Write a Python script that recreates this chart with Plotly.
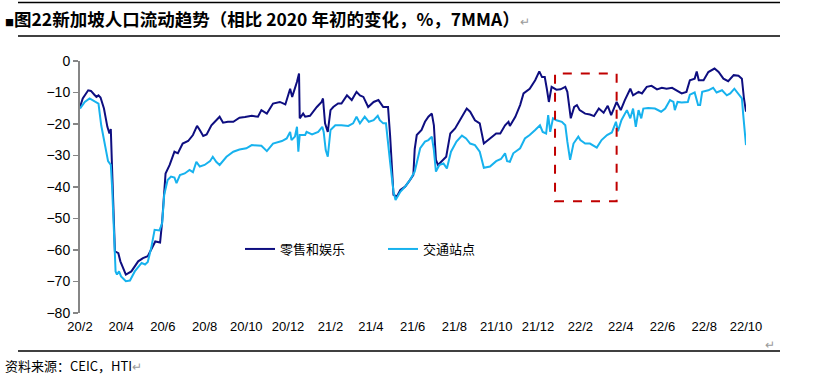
import plotly.graph_objects as go
import pandas as pd

# ---------------- data ----------------
base_date = "2020-02-15"   # day 0 of the series

retail_name = "零售和娱乐"
retail_days = [0, 4, 12, 16, 21, 24, 27, 30, 35, 40, 43, 45, 47, 51, 56, 59, 67, 75, 85, 92,
               99, 107, 110, 117, 120, 125, 131, 138, 143, 150, 158, 165, 171, 175, 180, 185, 192, 197, 204, 209,
               216, 224, 233, 241, 251, 260, 265, 273, 282, 292, 300, 307, 310, 317, 320, 321, 326, 329, 336, 346,
               353, 355, 358, 362, 366, 370, 377, 382, 390, 397, 404, 409, 414, 421, 429, 436, 443, 450, 453, 458,
               463, 468, 475, 482, 487, 489, 492, 499, 504, 509, 514, 517, 520, 523, 531, 535, 541, 548, 555, 565,
               570, 577, 584, 590, 599, 608, 614, 621, 626, 628, 636, 643, 648, 657, 665, 671, 675, 679, 682, 685,
               689, 696, 702, 709, 712, 715, 717, 722, 726, 730, 735, 738, 745, 751, 758, 765, 771, 776, 784, 790,
               796, 804, 808, 816, 821, 828, 835, 843, 850, 857, 865, 872, 879, 886, 891, 898, 901, 904, 911, 918,
               927, 933, 940, 947, 955, 962, 967, 970, 973]
retail_vals = [-14.6, -11.9, -9.3, -9.5, -10.7, -11.4, -10.9, -11.6, -15.1, -20.9, -23.0, -21.6, -35.0, -60.4, -61.0, -63.6, -67.8, -66.8, -63.6, -62.6,
               -62.0, -58.3, -57.3, -57.6, -51.0, -35.7, -33.0, -28.8, -29.3, -26.2, -25.4, -23.5, -20.6, -21.9, -23.8, -23.3, -20.4, -19.3, -17.7, -19.6,
               -19.3, -19.3, -18.0, -17.8, -17.4, -17.7, -15.6, -16.7, -13.5, -13.0, -13.8, -8.8, -11.4, -6.6, -4.0, -18.2, -16.7, -17.7, -17.4, -14.6,
               -13.0, -11.9, -19.8, -22.5, -15.6, -14.6, -13.5, -13.5, -10.9, -12.4, -9.8, -10.9, -11.4, -14.6, -13.0, -12.4, -14.6, -14.6, -23.5, -42.5,
               -43.0, -40.9, -39.9, -37.8, -36.2, -28.0, -23.5, -21.9, -19.3, -17.7, -16.7, -20.4, -31.4, -33.0, -31.4, -30.4, -23.0, -21.4, -18.8, -15.1,
               -16.1, -18.8, -19.8, -26.2, -24.6, -23.0, -23.0, -20.4, -19.3, -20.6, -17.7, -14.0, -10.3, -8.8, -6.1, -3.3, -5.1, -5.1, -8.8, -13.0,
               -8.2, -9.1, -9.0, -8.2, -9.8, -15.1, -18.2, -14.6, -14.0, -15.6, -16.4, -16.7, -17.0, -17.5, -15.1, -16.4, -14.2, -17.2, -13.0, -15.6,
               -12.4, -8.8, -10.9, -9.8, -10.3, -8.2, -7.9, -9.0, -8.5, -8.8, -8.5, -9.3, -10.3, -9.8, -6.1, -5.6, -3.3, -6.1, -6.1, -3.5,
               -2.4, -3.5, -5.6, -6.4, -4.5, -4.7, -5.6, -11.9, -16.1]

transit_name = "交通站点"
transit_days = [0, 7, 14, 21, 27, 31, 36, 41, 45, 47, 52, 54, 57, 60, 67, 73, 80, 90, 95, 99,
                104, 109, 116, 120, 123, 128, 133, 138, 141, 146, 153, 160, 165, 170, 175, 182, 190, 194, 199, 204,
                214, 224, 233, 243, 251, 265, 273, 282, 295, 302, 307, 309, 314, 317, 319, 321, 329, 331, 339, 348,
                354, 356, 359, 362, 366, 373, 382, 392, 399, 404, 409, 416, 422, 429, 435, 438, 443, 447, 453, 458,
                461, 468, 475, 482, 489, 494, 497, 504, 509, 514, 517, 520, 525, 531, 536, 542, 550, 558, 564, 570,
                577, 584, 590, 599, 608, 615, 621, 624, 628, 633, 643, 650, 657, 665, 672, 676, 681, 684, 687, 691,
                696, 704, 709, 712, 716, 721, 728, 731, 738, 745, 755, 762, 770, 777, 783, 786, 791, 799, 804, 808,
                812, 816, 820, 823, 830, 840, 849, 855, 862, 867, 869, 873, 879, 888, 891, 898, 903, 906, 909, 918,
                925, 930, 938, 945, 950, 956, 962, 967, 969, 973]
transit_vals = [-15.1, -13.0, -11.9, -12.7, -13.5, -20.4, -26.2, -31.8, -33.0, -40.4, -66.8, -67.8, -66.8, -68.4, -69.9, -69.7, -66.8, -64.1, -64.6, -63.8,
                -59.4, -53.6, -53.8, -51.5, -42.5, -37.8, -36.7, -37.0, -38.8, -36.2, -35.7, -34.6, -35.3, -32.0, -33.5, -33.0, -31.8, -30.4, -32.0, -33.0,
                -30.4, -28.8, -28.1, -27.7, -26.7, -26.9, -28.6, -26.2, -25.4, -24.6, -22.5, -25.1, -24.0, -20.9, -28.8, -23.5, -23.5, -22.5, -23.3, -22.5,
                -20.9, -22.5, -28.3, -30.4, -21.9, -20.4, -20.4, -20.6, -19.8, -17.7, -19.8, -17.7, -19.3, -18.8, -17.4, -18.8, -19.8, -19.8, -32.0, -41.5,
                -44.1, -41.5, -39.9, -37.8, -35.1, -30.9, -27.7, -25.6, -25.1, -24.0, -28.3, -35.1, -33.0, -32.5, -34.1, -28.8, -25.6, -23.7, -24.6, -26.2,
                -26.7, -28.8, -33.9, -33.5, -31.8, -31.1, -29.3, -31.8, -32.0, -29.3, -27.7, -24.6, -23.5, -21.9, -20.4, -22.5, -23.0, -17.2, -22.5, -18.2,
                -18.8, -19.3, -20.4, -25.6, -31.4, -26.2, -24.0, -25.1, -26.2, -26.2, -27.5, -25.1, -23.5, -22.7, -19.3, -22.3, -18.8, -15.6, -18.2, -15.1,
                -20.9, -15.6, -18.2, -15.1, -14.9, -15.1, -16.1, -15.1, -12.4, -13.0, -15.6, -13.0, -13.2, -13.0, -10.7, -10.0, -14.0, -14.0, -9.8, -9.3,
                -8.5, -10.0, -9.3, -10.9, -10.3, -8.8, -10.7, -11.9, -17.2, -26.7]

tick_dates = ["2020-02-15", "2020-04-15", "2020-06-15", "2020-08-15", "2020-10-15", "2020-12-15",
              "2021-02-15", "2021-04-15", "2021-06-15", "2021-08-15", "2021-10-15", "2021-12-15",
              "2022-02-15", "2022-04-15", "2022-06-15", "2022-08-15", "2022-10-15"]
tick_labels = ["20/2", "20/4", "20/6", "20/8", "20/10", "20/12", "21/2", "21/4", "21/6",
               "21/8", "21/10", "21/12", "22/2", "22/4", "22/6", "22/8", "22/10"]
y_ticks = [0, -10, -20, -30, -40, -50, -60, -70, -80]

# highlighted window (red dashed box)
box_start, box_end = "2022-01-09", "2022-04-09"
box_top, box_bottom = -4, -44.5

title_text = "图22新加坡人口流动趋势（相比 2020 年初的变化，%，7MMA）"
source_text = "资料来源：CEIC，HTI"

# ---------------- styling ----------------
NAVY = "#0E0E80"
LIGHT = "#17B2EE"
GRAY = "#868686"
W, H = 813, 378
L, R, T, B = 80, 67, 61, 65
PW, PH = W - L - R, H - T - B
CJK = "Noto Sans CJK SC"
LATIN = "Liberation Sans, Arial"
NARROW = "Liberation Sans Narrow, Arial Narrow, Liberation Sans"


def px_x(px):
    return (px - L) / PW


def px_y(py):
    return (H - B - py) / PH


def to_dates(days):
    return pd.Timestamp(base_date) + pd.to_timedelta(days, unit="D")


fig = go.Figure()
fig.add_trace(go.Scatter(x=to_dates(retail_days), y=retail_vals, mode="lines", name=retail_name,
                         line=dict(color=NAVY, width=2), hoverinfo="skip"))
fig.add_trace(go.Scatter(x=to_dates(transit_days), y=transit_vals, mode="lines", name=transit_name,
                         line=dict(color=LIGHT, width=2), hoverinfo="skip"))

xrange = [tick_dates[0], tick_dates[-1]]
fig.update_layout(
    width=W, height=H,
    margin=dict(l=L, r=R, t=T, b=B),
    paper_bgcolor="white", plot_bgcolor="white",
    showlegend=True, hovermode=False,
    legend=dict(orientation="h", x=px_x(240), y=px_y(249), xanchor="left", yanchor="middle",
                font=dict(family=CJK, size=13, color="black"), bgcolor="rgba(0,0,0,0)",
                entrywidth=98, entrywidthmode="pixels", itemwidth=30),
    xaxis=dict(type="date", range=xrange, tickvals=tick_dates, ticktext=tick_labels,
               showline=False, ticks="", showgrid=False, zeroline=False,
               tickfont=dict(family=NARROW, size=13, color="black"), ticklabelstandoff=4),
    xaxis2=dict(type="date", range=xrange, overlaying="x", side="top", anchor="y",
                tickvals=tick_dates, showticklabels=False, ticks="inside", ticklen=5,
                tickcolor=GRAY, tickwidth=1.5, showline=True, linecolor=GRAY, linewidth=2,
                showgrid=False, zeroline=False),
    yaxis=dict(range=[-80, 0], tickvals=y_ticks, ticks="outside", ticklen=5, tickcolor=GRAY,
               tickwidth=1.5, showline=True, linecolor=GRAY, linewidth=2, showgrid=False,
               zeroline=False, tickfont=dict(family=LATIN, size=14, color="black")),
)

shapes = [
    dict(type="rect", xref="x", yref="y", x0=box_start, x1=box_end, y0=box_bottom, y1=box_top,
         line=dict(color="#C00000", width=2, dash="dash")),
]
for py in (2.5, 36, 351):
    shapes.append(dict(type="line", xref="paper", yref="paper", x0=px_x(18), x1=px_x(780),
                       y0=px_y(py), y1=px_y(py), layer="above",
                       line=dict(color="black", width=1.5)))
fig.update_layout(shapes=shapes)

annotations = [
    dict(xref="paper", yref="paper", x=px_x(3), y=px_y(19), xanchor="left", yanchor="middle",
         showarrow=False,
         text="<span style='font-size:9px'>■</span><b>" + title_text + "</b>"
              "<span style='color:#9a9a9a;font-size:12px'>↵</span>",
         font=dict(family=CJK, size=17.5, color="black")),
    dict(xref="paper", yref="paper", x=px_x(3), y=px_y(365), xanchor="left", yanchor="middle",
         showarrow=False,
         text=source_text + "<span style='color:#9a9a9a;font-size:12px'>↵</span>",
         font=dict(family=CJK, size=13, color="black")),
    dict(xref="paper", yref="paper", x=px_x(770), y=px_y(343), xanchor="center", yanchor="middle",
         showarrow=False, text="↵", font=dict(family=CJK, size=12, color="#9a9a9a")),
]
fig.update_layout(annotations=annotations)

fig.write_html("out.html", config={"displayModeBar": False, "staticPlot": True},
               post_script="document.body.style.margin='0px';document.body.style.padding='0px';")
